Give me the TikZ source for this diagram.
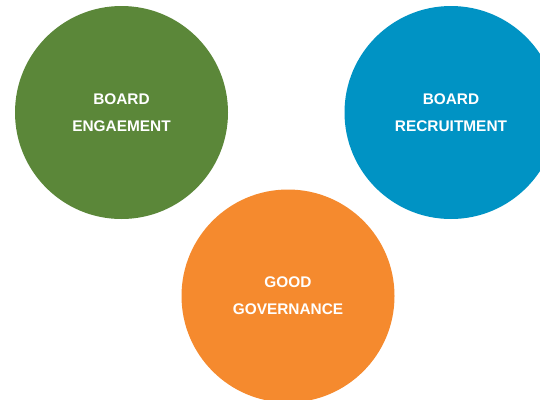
\documentclass[tikz,border=0pt]{standalone}
\usepackage{fontspec}
\setmainfont{Liberation Sans}
\definecolor{cgreen}{RGB}{91,135,57}
\definecolor{cblue}{RGB}{0,147,196}
\definecolor{corange}{RGB}{245,138,46}
\begin{document}
\begin{tikzpicture}[x=1pt,y=-1pt,
  bubble/.style={circle,minimum size=213pt,inner sep=0pt,text=white,align=center,
    font=\fontsize{15.4}{27}\selectfont\bfseries}]
\useasboundingbox (0,0) rectangle (540,399);
\clip (0,0) rectangle (540,399);
\fill[white] (0,0) rectangle (540,399);
\node[bubble,fill=cgreen] (eng) at (121.5,112.5) {BOARD\\ENGAEMENT};
\node[bubble,fill=cblue] (rec) at (451,112.5) {BOARD\\RECRUITMENT};
\node[bubble,fill=corange] (gov) at (288,296) {GOOD\\GOVERNANCE};
\end{tikzpicture}
\end{document}
